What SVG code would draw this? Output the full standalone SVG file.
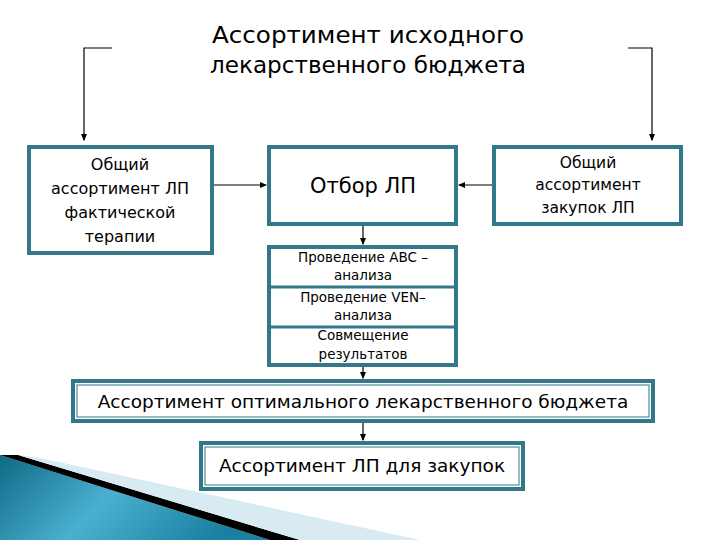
<svg xmlns="http://www.w3.org/2000/svg" width="720" height="540" viewBox="0 0 720 540">
<defs>
<marker id="a" markerWidth="6" markerHeight="6" refX="5" refY="3" orient="auto"><path d="M0,0.5 L6,3 L0,5.5z" fill="#000"/></marker>
<linearGradient id="g" x1="0" y1="0" x2="1" y2="0.3"><stop offset="0" stop-color="#0e6a86"/><stop offset="0.5" stop-color="#4bb0d0"/><stop offset="1" stop-color="#1a7fa0"/></linearGradient>
</defs>
<style>
.b{fill:#fff;stroke:#31788a;stroke-width:4}
.i{fill:none;stroke:#31788a;stroke-width:1}
text{font-family:"DejaVu Sans",sans-serif;fill:#000;text-anchor:middle}
.c{stroke:#000;stroke-width:1.2;fill:none}
</style>
<rect width="720" height="540" fill="#fff"/>
<path d="M0,470 L0,455 L270,540 L0,540z" fill="url(#g)"/>
<path d="M0,455 L18,455 L300,540 L270,540z" fill="#000"/>
<path d="M18,455 L40,458 L420,540 L300,540z" fill="#d8ebf2"/>
<g id="title"><text x="368" y="43" font-size="23.5" textLength="312" lengthAdjust="spacingAndGlyphs">Ассортимент исходного</text><text x="368" y="73" font-size="23.5" textLength="316" lengthAdjust="spacingAndGlyphs">лекарственного бюджета</text></g>
<g id="connectors">
<path class="c" d="M112,48 H84 V140" marker-end="url(#a)"/>
<path class="c" d="M628,48 H652 V140" marker-end="url(#a)"/>
<path class="c" d="M213,185 H266" marker-end="url(#a)"/>
<path class="c" d="M493,185 H459" marker-end="url(#a)"/>
<path class="c" d="M363,225 V244" marker-end="url(#a)"/>
<path class="c" d="M363,366 V378" marker-end="url(#a)"/>
<path class="c" d="M363,422 V440" marker-end="url(#a)"/>
</g>
<g id="n1"><rect class="b" x="29" y="147" width="183" height="106"/><text font-size="16"><tspan x="120" y="170">Общий</tspan><tspan x="120" y="194">ассортимент ЛП</tspan><tspan x="120" y="218">фактической</tspan><tspan x="120" y="242">терапии</tspan></text></g>
<g id="n2"><rect class="b" x="269" y="147" width="187" height="77"/><text x="363" y="193" font-size="21">Отбор ЛП</text></g>
<g id="n3"><rect class="b" x="494" y="147" width="187" height="77"/><text font-size="15.5"><tspan x="588" y="168">Общий</tspan><tspan x="588" y="190">ассортимент</tspan><tspan x="588" y="213">закупок ЛП</tspan></text></g>
<g id="n4"><rect class="b" x="269" y="247" width="187" height="118"/><path style="stroke:#31788a;stroke-width:3;fill:none" d="M269,287 H456 M269,327 H456"/><text font-size="13.5"><tspan x="363" y="262">Проведение ABC –</tspan><tspan x="363" y="280">анализа</tspan><tspan x="363" y="302">Проведение VEN–</tspan><tspan x="363" y="320">анализа</tspan><tspan x="363" y="340">Совмещение</tspan><tspan x="363" y="359">результатов</tspan></text></g>
<g id="n5"><rect class="b" x="73" y="381" width="580" height="40"/><rect class="i" x="77" y="385" width="572" height="32"/><text x="363" y="408" font-size="18.5">Ассортимент оптимального лекарственного бюджета</text></g>
<g id="n6"><rect class="b" x="201" y="443" width="322" height="46"/><rect class="i" x="205" y="447" width="314" height="38"/><text x="362" y="472" font-size="18.5">Ассортимент ЛП для закупок</text></g>
</svg>
